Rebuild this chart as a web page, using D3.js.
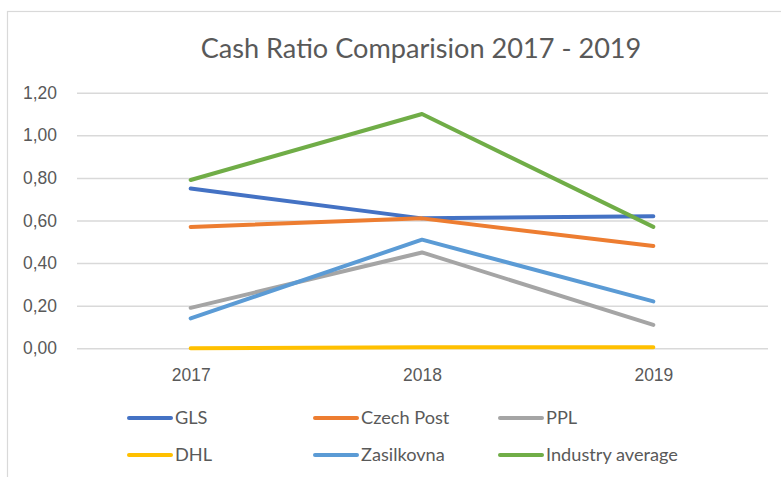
<!DOCTYPE html>
<html>
<head>
<meta charset="utf-8">
<script src="https://cdn.jsdelivr.net/npm/d3@7"></script>
<style>
  html, body { margin: 0; padding: 0; background: #fff; }
  svg { display: block; font-family: Lato, "Open Sans", sans-serif; }
</style>
</head>
<body>
<section></section>
<script>
"use strict";

// chart data
const years = ["2017", "2018", "2019"];
const seriesNames = ["GLS", "Czech Post", "PPL", "DHL", "Zasilkovna", "Industry average"];
const gls = [0.75, 0.61, 0.62];
const czechPost = [0.57, 0.61, 0.48];
const ppl = [0.19, 0.45, 0.11];
const dhl = [0.0, 0.005, 0.005];
const zasilkovna = [0.14, 0.51, 0.22];
const industryAvg = [0.79, 1.1, 0.57];
const yTicks = [0, 0.2, 0.4, 0.6, 0.8, 1.0, 1.2];

const colors = ["#4472C4", "#ED7D31", "#A5A5A5", "#FFC000", "#5B9BD5", "#70AD47"];
const series = [gls, czechPost, ppl, dhl, zasilkovna, industryAvg].map((vals, i) => ({
  name: seriesNames[i],
  color: colors[i],
  values: vals.map((v, j) => ({ year: years[j], value: v })),
}));

const w = 781;
const h = 477;
const textColor = "#595959";

const svg = d3.select("section").append("svg").attr("width", w).attr("height", h);

// outer chart frame (runs off the right and bottom of the picture)
svg.append("rect")
  .attr("x", 7.5).attr("y", 11.5)
  .attr("width", 830).attr("height", 520)
  .attr("fill", "none")
  .attr("stroke", "#d9d9d9")
  .attr("stroke-width", 1.2);

//scale text so it takes the same width as in the picture
const fitFont = (sel, sample, target) => {
  const node = sel.filter((d, i, n) => n[i].textContent === sample).node() || sel.node();
  const size = parseFloat(sel.attr("font-size"));
  const len = node.getComputedTextLength();
  sel.attr("font-size", (size * target / len).toFixed(2));
};

const title = svg.append("text")
  .attr("x", 421).attr("y", 58)
  .attr("text-anchor", "middle")
  .attr("font-size", 26)
  .attr("fill", textColor)
  .text("Cash Ratio Comparision 2017 - 2019");
fitFont(title, title.text(), 441);

const xScale = d3.scalePoint().domain(years).range([75, 769]).padding(0.5);
const yScale = d3.scaleLinear().domain([0, 1.2]).range([348.3, 92.7]);

const locale = d3.formatLocale({ decimal: ",", thousands: " ", grouping: [3], currency: ["", ""] });
const fmt = locale.format(".2f");

const yAxisG = svg.append("g")
  .attr("transform", "translate(77,0)")
  .call(d3.axisLeft(yScale).tickValues(yTicks).tickFormat(fmt).tickSize(-(768 - 77)).tickPadding(20))
  .call((g) => g.select(".domain").remove());
yAxisG.selectAll(".tick line").attr("stroke", "#d9d9d9").attr("stroke-width", 1.5);
const yLabels = yAxisG.selectAll(".tick text")
  .attr("fill", textColor)
  .attr("font-family", null)
  .attr("font-size", 16);
fitFont(yLabels, "0,00", 34);

const xAxisG = svg.append("g")
  .attr("transform", `translate(0,${yScale(0)})`)
  .call(d3.axisBottom(xScale).tickSize(0).tickPadding(20))
  .call((g) => g.select(".domain").remove());
xAxisG.selectAll(".tick text")
  .attr("fill", textColor)
  .attr("font-family", null)
  .attr("font-size", yLabels.attr("font-size"));

const line = d3.line()
  .x((d) => xScale(d.year))
  .y((d) => yScale(d.value));

svg.append("g")
  .selectAll("path")
  .data(series)
  .enter()
  .append("path")
  .attr("d", (d) => line(d.values))
  .attr("fill", "none")
  .attr("stroke", (d) => d.color)
  .attr("stroke-width", 4)
  .attr("stroke-linecap", "round")
  .attr("stroke-linejoin", "round");

// legend, 3 columns x 2 rows
const legendCols = [127, 313, 498];
const legendRows = [418, 455];
const legend = svg.append("g").attr("id", "legend");
const items = legend.selectAll("g")
  .data(series)
  .enter()
  .append("g")
  .attr("transform", (d, i) => `translate(${legendCols[i % 3]},${legendRows[Math.floor(i / 3)]})`);
items.append("line")
  .attr("x1", 2).attr("x2", 44)
  .attr("stroke", (d) => d.color)
  .attr("stroke-width", 4)
  .attr("stroke-linecap", "round");
const legendText = items.append("text")
  .attr("x", 48)
  .attr("dy", "0.35em")
  .attr("font-size", 16)
  .attr("fill", textColor)
  .text((d) => d.name);
fitFont(legendText, "Industry average", 132);
</script>
</body>
</html>
